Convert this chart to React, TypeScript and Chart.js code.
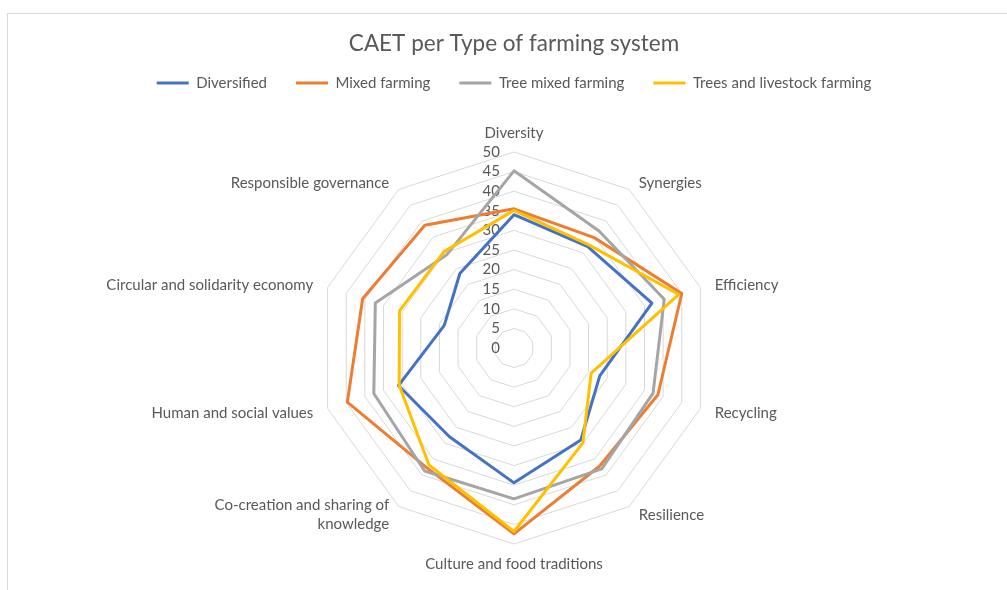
import React, { useEffect, useRef } from "react";
import { Chart, registerables } from "chart.js";

Chart.register(...registerables);

const TITLE = "CAET per Type of farming system";

const CATEGORIES: (string | string[])[] = [
  "Diversity",
  "Synergies",
  "Efficiency",
  "Recycling",
  "Resilience",
  "Culture and food traditions",
  ["Co-creation and sharing of", "knowledge"],
  "Human and social values",
  "Circular and solidarity economy",
  "Responsible governance",
];

const SERIES_NAMES = [
  "Diversified",
  "Mixed farming",
  "Tree mixed farming",
  "Trees and livestock farming",
];

const DIVERSIFIED = [34, 32, 37, 23, 29, 34.4, 28, 31, 18.7, 23.5];
const MIXED_FARMING = [35.5, 34.8, 45, 38.6, 37.2, 47.4, 37.8, 44.7, 40.6, 38.7];
const TREE_MIXED_FARMING = [45.2, 36.9, 40.3, 37.3, 38.1, 38.5, 38.8, 37.6, 37.2, 29.3];
const TREES_LIVESTOCK = [35.1, 32.5, 44.2, 20.7, 29.9, 46.8, 36.9, 30.8, 30.7, 30.4];

const SERIES_COLORS = ["#4472C4", "#ED7D31", "#A5A5A5", "#FFC000"];

const SCALE_MIN = 0;
const SCALE_MAX = 50;
const SCALE_STEP = 5;

const FONT = "Lato, 'Open Sans', sans-serif";
const TEXT_COLOR = "#595959";
const LABEL_SIZE = 15;

// Draws the value labels (0..50) to the left of the vertical axis, under the lines
const tickLabelPlugin = {
  id: "leftTickLabels",
  beforeDatasetsDraw(chart: any) {
    const scale = chart.scales.r;
    const ctx = chart.ctx;
    ctx.save();
    ctx.font = `${LABEL_SIZE}px ${FONT}`;
    ctx.fillStyle = TEXT_COLOR;
    ctx.textAlign = "right";
    ctx.textBaseline = "middle";
    scale.ticks.forEach((t: any) => {
      const d = scale.getDistanceFromCenterForValue(t.value);
      ctx.fillText(String(t.value), scale.xCenter - 14, scale.yCenter - d);
    });
    ctx.restore();
  },
};

// Draws the category labels beside each spoke end, Excel style
const categoryLabelPlugin = {
  id: "categoryLabels",
  afterDatasetsDraw(chart: any) {
    const scale = chart.scales.r;
    const ctx = chart.ctx;
    const r = scale.drawingArea;
    const lh = 19;
    ctx.save();
    ctx.font = `${LABEL_SIZE}px ${FONT}`;
    ctx.fillStyle = TEXT_COLOR;
    ctx.textBaseline = "middle";
    CATEGORIES.forEach((label, i) => {
      const lines = Array.isArray(label) ? label : [label];
      const deg = Math.round((scale.getIndexAngle(i) * 180) / Math.PI) % 360;
      let x: number;
      let yc: number;
      if (deg === 0 || deg === 180) {
        const p = scale.getPointPosition(i, r + (deg === 0 ? 9 : 11));
        x = p.x;
        ctx.textAlign = "center";
        const block = lines.length * lh;
        yc = deg === 0 ? p.y - block / 2 : p.y + block / 2;
      } else {
        const px = scale.getPointPosition(i, r + 13);
        const py = scale.getPointPosition(i, r + 8);
        if (deg < 180) {
          ctx.textAlign = "left";
          x = px.x + 2;
        } else {
          ctx.textAlign = "right";
          x = px.x - 2;
        }
        yc = py.y + (deg > 90 && deg < 270 ? 2 : 0);
      }
      const startY = yc - ((lines.length - 1) * lh) / 2;
      lines.forEach((line, k) => {
        ctx.fillText(line, x, startY + k * lh);
      });
    });
    ctx.restore();
  },
};

export default function App() {
  const canvasRef = useRef<HTMLCanvasElement | null>(null);

  useEffect(() => {
    const canvas = canvasRef.current;
    if (!canvas) return;
    const seriesData = [DIVERSIFIED, MIXED_FARMING, TREE_MIXED_FARMING, TREES_LIVESTOCK];
    const chart = new Chart(canvas, {
      type: "radar",
      data: {
        labels: CATEGORIES,
        datasets: SERIES_NAMES.map((name, i) => ({
          label: name,
          data: seriesData[i],
          borderColor: SERIES_COLORS[i],
          backgroundColor: SERIES_COLORS[i],
          borderWidth: 3,
          borderJoinStyle: "round" as const,
          pointRadius: 0,
          pointHoverRadius: 0,
          fill: false,
          order: SERIES_NAMES.length - i,
        })),
      },
      options: {
        responsive: false,
        animation: false,
        layout: { padding: { top: 0, bottom: 46, left: 21, right: 0 } },
        plugins: {
          title: {
            display: true,
            text: TITLE,
            color: TEXT_COLOR,
            font: { family: FONT, size: 22.5, weight: "normal", lineHeight: 1.2 },
            padding: { top: 30.5, bottom: -11 },
          },
          legend: {
            display: true,
            position: "top",
            labels: {
              usePointStyle: true,
              pointStyle: "line",
              pointStyleWidth: 32,
              color: TEXT_COLOR,
              font: { family: FONT, size: 15 },
              padding: 29,
              sort: (a: any, b: any) => a.datasetIndex - b.datasetIndex,
            },
          },
          subtitle: {
            display: true,
            text: "",
            weight: 500,
            font: { family: FONT, size: 10, lineHeight: 1 },
            padding: { top: 41.5, bottom: 0 },
          },
          tooltip: { enabled: false },
        },
        scales: {
          r: {
            min: SCALE_MIN,
            max: SCALE_MAX,
            ticks: { stepSize: SCALE_STEP, display: false },
            angleLines: { display: false },
            grid: { color: "#d9d9d9", lineWidth: 1, circular: false },
            pointLabels: { display: false },
          },
        },
      } as any,
      plugins: [tickLabelPlugin, categoryLabelPlugin],
    });
    return () => chart.destroy();
  }, []);

  return (
    <div style={{ position: "absolute", left: 0, top: 0, width: 1007, height: 590, background: "#fff", overflow: "hidden" }}>
      <div
        style={{
          position: "absolute",
          left: 7,
          top: 13,
          width: 1100,
          height: 700,
          borderLeft: "1px solid #d9d9d9",
          borderTop: "1px solid #d9d9d9",
        }}
      />
      <canvas ref={canvasRef} width={1007} height={590} style={{ position: "absolute", left: 0, top: 0 }} />
    </div>
  );
}
